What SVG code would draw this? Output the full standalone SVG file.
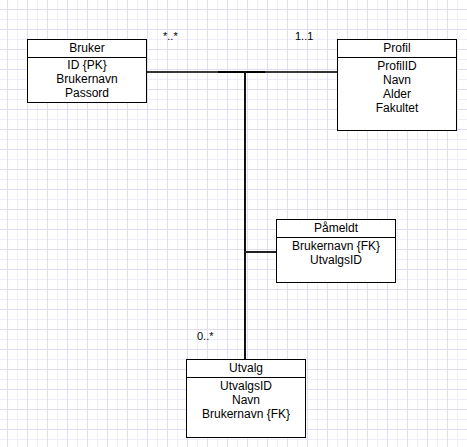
<svg xmlns="http://www.w3.org/2000/svg" width="467" height="447" viewBox="0 0 467 447">
<defs>
<pattern id="grid" x="7" y="9" width="20" height="20" patternUnits="userSpaceOnUse">
<rect width="20" height="20" fill="#ffffff"/>
<line x1="10.5" y1="0" x2="10.5" y2="20" stroke="#eeedfb" stroke-width="1"/>
<line x1="0" y1="10.5" x2="20" y2="10.5" stroke="#eeedfb" stroke-width="1"/>
<line x1="0.5" y1="0" x2="0.5" y2="20" stroke="#e0dcfa" stroke-width="1"/>
<line x1="0" y1="0.5" x2="20" y2="0.5" stroke="#e0dcfa" stroke-width="1"/>
</pattern>
</defs>
<style>
.box{fill:#ffffff;stroke:#000000;stroke-width:1}
.div{stroke:#000000;stroke-width:1}
.t{font-family:"Liberation Sans",Arial,sans-serif;font-size:12px;fill:#000000;text-anchor:middle}
.m{font-family:"Liberation Sans",Arial,sans-serif;font-size:11px;fill:#000000}
.c{fill:none;stroke-width:2}
</style>
<rect width="467" height="447" fill="url(#grid)"/>
<g id="connectors">
<line class="c" x1="146" y1="72" x2="170" y2="72" stroke="#333333"/>
<line class="c" x1="170" y1="72" x2="218" y2="72" stroke="#3a3a3a"/>
<line class="c" x1="218" y1="72" x2="265" y2="72" stroke="#000000"/>
<line class="c" x1="265" y1="72" x2="313" y2="72" stroke="#3a3a3a"/>
<line class="c" x1="313" y1="72" x2="337" y2="72" stroke="#333333"/>
<line class="c" x1="245" y1="71" x2="245" y2="359" stroke="#111111"/>
<line class="c" x1="245" y1="252" x2="276" y2="252" stroke="#222222"/>
<text class="m" x="163" y="40">*..*</text>
<text class="m" x="295" y="40">1..1</text>
<text class="m" x="197" y="340">0..*</text>
</g>
<g id="bruker">
<rect class="box" x="27.5" y="39.5" width="119" height="63"/>
<line class="div" x1="27.5" y1="57.5" x2="146.5" y2="57.5"/>
<text class="t" x="87" y="52">Bruker</text>
<text class="t" x="87" y="69">ID {PK}</text>
<text class="t" x="87" y="83">Brukernavn</text>
<text class="t" x="87" y="97">Passord</text>
</g>
<g id="profil">
<rect class="box" x="337.5" y="39.5" width="119" height="91"/>
<line class="div" x1="337.5" y1="57.5" x2="456.5" y2="57.5"/>
<text class="t" x="397" y="52">Profil</text>
<text class="t" x="397" y="70">ProfilID</text>
<text class="t" x="397" y="84">Navn</text>
<text class="t" x="397" y="98">Alder</text>
<text class="t" x="397" y="112">Fakultet</text>
</g>
<g id="pameldt">
<rect class="box" x="276.5" y="219.5" width="119" height="63"/>
<line class="div" x1="276.5" y1="237.5" x2="395.5" y2="237.5"/>
<text class="t" x="336" y="232">Påmeldt</text>
<text class="t" x="336" y="250">Brukernavn {FK}</text>
<text class="t" x="336" y="264">UtvalgsID</text>
</g>
<g id="utvalg">
<rect class="box" x="186.5" y="359.5" width="119" height="78"/>
<line class="div" x1="186.5" y1="377.5" x2="305.5" y2="377.5"/>
<text class="t" x="246" y="372">Utvalg</text>
<text class="t" x="246" y="390">UtvalgsID</text>
<text class="t" x="246" y="404">Navn</text>
<text class="t" x="246" y="418">Brukernavn {FK}</text>
</g>
</svg>
